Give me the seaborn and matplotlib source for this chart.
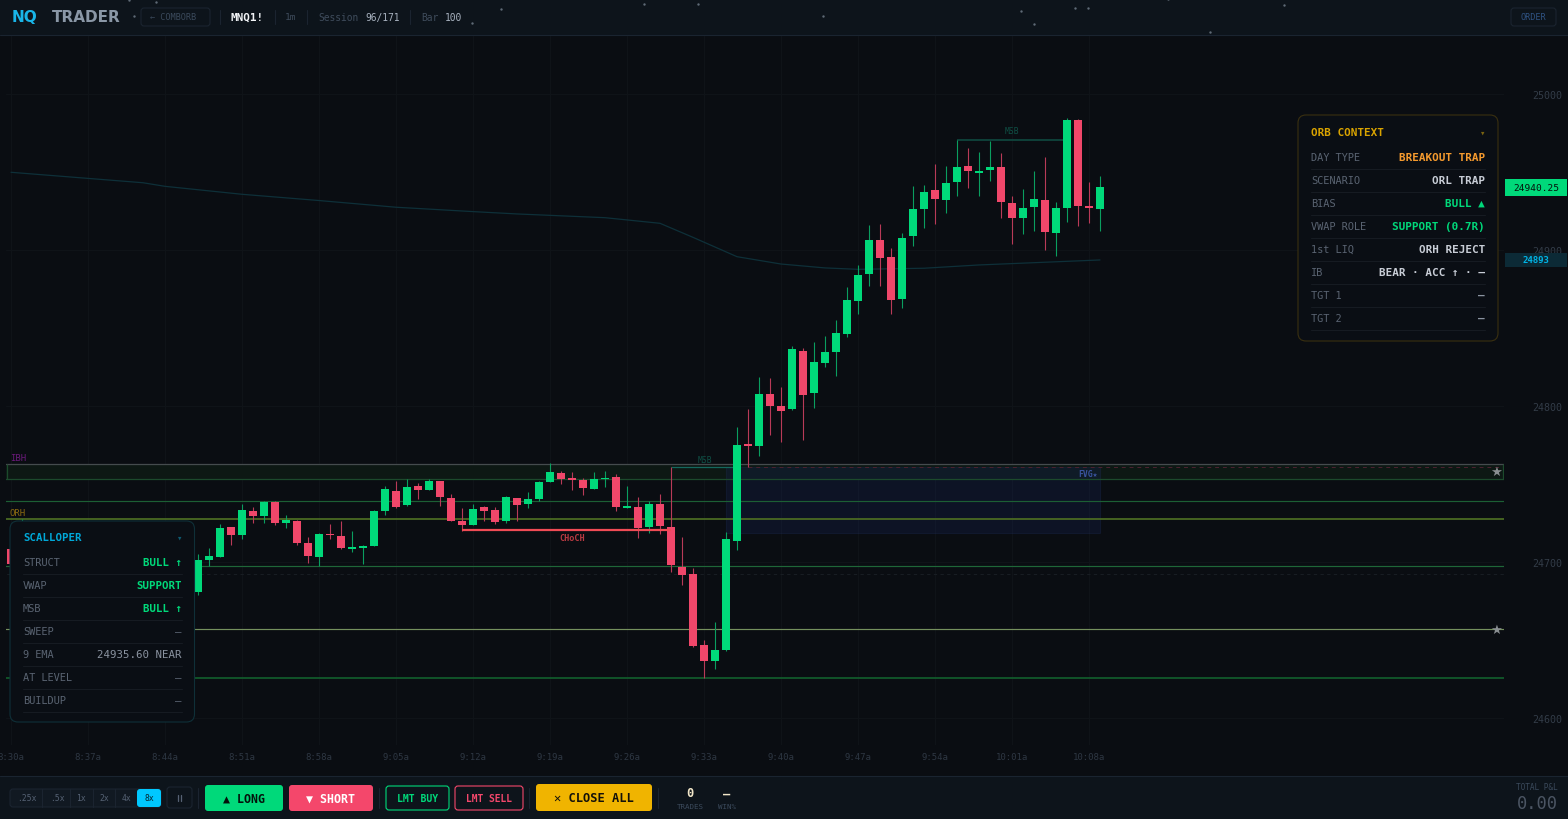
import matplotlib
matplotlib.use("Agg")
import matplotlib.pyplot as plt
import numpy as np
import seaborn as sns
from matplotlib.patches import FancyBboxPatch, Rectangle

# Bars (minutes after 8:30). Bars 2-16 sit behind the SCALLOPER panel.
minutes = [0, 1] + list(range(17, 100))
opens = [24708.3, 24709.6, 24680.8, 24701.5, 24703.4, 24722.4, 24717.3, 24732.7, 24729.5, 24738.3,
         24725.0, 24726.5, 24712.2, 24703.4, 24718.0, 24716.7, 24708.5, 24708.8, 24710.3, 24732.7,
         24745.5, 24736.5, 24748.7, 24746.2, 24751.9, 24741.0, 24726.5, 24723.9, 24735.1, 24733.1,
         24726.3, 24741.0, 24737.0, 24740.6, 24751.5, 24757.3, 24753.9, 24752.4, 24747.0, 24753.4,
         24754.3, 24734.8, 24735.5, 24722.3, 24737.2, 24722.4, 24697.0, 24692.3, 24647.0, 24636.6,
         24643.4, 24713.5, 24775.5, 24774.6, 24807.5, 24800.2, 24797.9, 24835.3, 24808.5, 24827.6,
         24834.4, 24846.4, 24867.3, 24884.4, 24906.2, 24895.3, 24868.6, 24908.8, 24926.1, 24938.5,
         24932.2, 24943.8, 24954.0, 24949.4, 24951.3, 24953.0, 24930.1, 24920.5, 24927.4, 24932.1,
         24911.1, 24926.9, 24983.1, 24928.2, 24926.1]
closes = [24698.7, 24721.2, 24701.5, 24703.9, 24722.0, 24717.3, 24733.3, 24729.3, 24738.5, 24725.2,
          24727.1, 24712.0, 24703.9, 24717.8, 24717.3, 24708.8, 24709.6, 24710.3, 24732.9, 24746.8,
          24735.3, 24748.1, 24746.2, 24751.7, 24741.9, 24726.5, 24723.5, 24734.2, 24732.9, 24725.8,
          24741.5, 24736.7, 24740.2, 24751.3, 24757.5, 24753.4, 24752.8, 24747.2, 24753.4, 24753.9,
          24735.3, 24735.9, 24722.0, 24737.2, 24723.1, 24697.9, 24691.5, 24646.4, 24636.6, 24643.8,
          24714.8, 24775.0, 24774.6, 24807.5, 24800.2, 24797.0, 24836.4, 24807.2, 24828.4, 24834.4,
          24846.8, 24867.8, 24884.2, 24906.2, 24895.1, 24867.8, 24907.9, 24926.1, 24937.2, 24932.5,
          24943.0, 24953.2, 24950.6, 24950.8, 24953.2, 24930.8, 24920.3, 24926.7, 24932.5, 24911.7,
          24926.9, 24983.5, 24928.4, 24926.9, 24940.25]
highs = [24708.3, 24727.6, 24704.9, 24709.0, 24724.6, 24722.4, 24737.2, 24735.3, 24739.3, 24739.3,
         24730.1, 24726.9, 24716.2, 24718.6, 24724.4, 24726.3, 24720.1, 24710.9, 24733.3, 24748.5,
         24751.9, 24753.2, 24750.7, 24753.2, 24751.9, 24743.4, 24734.6, 24737.2, 24735.9, 24735.3,
         24742.3, 24741.0, 24744.9, 24751.9, 24763.3, 24758.3, 24757.9, 24753.7, 24757.5, 24758.3,
         24756.2, 24748.7, 24741.9, 24739.3, 24743.6, 24760.7, 24715.8, 24696.0, 24650.0, 24661.7,
         24719.0, 24786.5, 24798.1, 24818.6, 24818.1, 24812.2, 24838.5, 24837.2, 24840.8, 24844.9,
         24854.9, 24876.1, 24890.4, 24916.0, 24916.5, 24901.1, 24910.9, 24941.2, 24941.7, 24955.1,
         24954.0, 24970.5, 24965.4, 24962.6, 24969.9, 24962.2, 24934.8, 24939.1, 24950.6, 24959.4,
         24931.0, 24984.6, 24984.0, 24943.6, 24947.4]
lows = [24698.1, 24707.1, 24678.9, 24697.4, 24703.2, 24710.9, 24714.8, 24725.0, 24725.2, 24723.7,
        24722.0, 24710.9, 24699.6, 24697.6, 24714.8, 24708.3, 24706.6, 24698.7, 24710.1, 24730.3,
        24734.6, 24735.7, 24740.2, 24746.2, 24735.7, 24726.1, 24720.1, 24723.7, 24726.1, 24724.6,
        24725.2, 24726.3, 24734.6, 24739.3, 24751.5, 24750.0, 24746.4, 24743.0, 24746.8, 24747.9,
        24732.5, 24734.8, 24715.6, 24718.8, 24718.0, 24693.6, 24685.1, 24645.7, 24625.8, 24631.6,
        24642.8, 24707.7, 24760.7, 24768.1, 24781.6, 24777.1, 24797.4, 24778.4, 24798.5, 24825.2,
        24819.0, 24844.0, 24858.8, 24876.7, 24877.1, 24859.2, 24862.8, 24902.8, 24914.1, 24916.7,
        24923.5, 24934.4, 24939.7, 24934.6, 24944.0, 24920.3, 24904.0, 24910.1, 24912.4, 24900.2,
        24896.3, 24917.8, 24915.4, 24917.3, 24912.2]

# VWAP samples
vwap_minutes = [0, 12, 14, 21, 28, 35, 42, 46, 54, 59, 62, 66, 70, 74, 77, 83, 88, 99]
vwap_prices = [24949.8, 24943.1, 24940.8, 24935.7, 24931.7, 24927.4, 24924.6, 24923.1, 24920.7,
               24917.1, 24908.1, 24895.7, 24891.0, 24888.5, 24887.6, 24888.3, 24890.4, 24893.6]

# Key levels
level_prices = [24739.4, 24727.6, 24697.4, 24657.0, 24625.6]
level_colors = ["#1c5f34", "#4a6a22", "#1f6638", "#75905e", "#12662f"]
level_widths = [0.85, 1.3, 0.85, 0.85, 1.1]
ibh_zone = (24753.2, 24762.8)
fvg_zone = (24718.8, 24760.9)
fvg_span = (65, 99)
dotted_level = 24692.5

time_ticks = [0, 7, 14, 21, 28, 35, 42, 49, 56, 63, 70, 77, 84, 91, 98]
time_labels = ["8:30a", "8:37a", "8:44a", "8:51a", "8:58a", "9:05a", "9:12a", "9:19a", "9:26a",
               "9:33a", "9:40a", "9:47a", "9:54a", "10:01a", "10:08a"]
price_ticks = [24600, 24700, 24800, 24900, 25000]

orb_rows = [("DAY TYPE", "BREAKOUT TRAP", "#f59a2e"), ("SCENARIO", "ORL TRAP", "#c8cdd6"),
            ("BIAS", "BULL ▲", "#00d97a"), ("VWAP ROLE", "SUPPORT (0.7R)", "#00d97a"),
            ("1st LIQ", "ORH REJECT", "#c8cdd6"), ("IB", "BEAR · ACC ↑ · —", "#c8cdd6"),
            ("TGT 1", "—", "#8a93a0"), ("TGT 2", "—", "#8a93a0")]
scalp_rows = [("STRUCT", "BULL ↑", "#00d97a"), ("VWAP", "SUPPORT", "#00d97a"),
              ("MSB", "BULL ↑", "#00d97a"), ("SWEEP", "—", "#5a6472"),
              ("9 EMA", "24935.60 NEAR", "#8a93a0"), ("AT LEVEL", "—", "#5a6472"),
              ("BUILDUP", "—", "#5a6472")]

BG = "#0a0d12"
BAR_BG = "#0d141b"
UP = "#00d97a"
DOWN = "#f0476a"
UP_WICK = "#0a9e5f"
DOWN_WICK = "#b93a58"

sns.set_theme(style="dark", rc={"axes.facecolor": BG, "figure.facecolor": BG})
plt.rcParams["font.family"] = ["DejaVu Sans Mono", "DejaVu Sans"]

fig = plt.figure(figsize=(15.68, 8.2), dpi=100)
ax = fig.add_axes([6 / 1568, 74 / 820, 1498 / 1568, 710 / 820])

# chart background levels
ax.axhspan(*ibh_zone, color="#0d1814", lw=0, zorder=1)
ax.add_patch(Rectangle((fvg_span[0], fvg_zone[0]), fvg_span[1] - fvg_span[0], fvg_zone[1] - fvg_zone[0],
                       facecolor="#1a2a6c", alpha=0.22, edgecolor="#26386f", lw=0.8, zorder=1.5))
ax.hlines(ibh_zone[1], -1, 140, color="#454b4e", lw=0.9, zorder=2)
ax.hlines(ibh_zone[0], -1, 140, color="#1c4a2c", lw=0.9, zorder=2)
ax.hlines(level_prices, -1, 140, colors=level_colors, linewidths=level_widths, zorder=2)
ax.hlines(dotted_level, -1, 140, color="#181d23", lw=0.8, linestyles=(0, (3, 3)), zorder=2)
ax.hlines(fvg_zone[1], 67, 140, color="#4c2230", lw=0.7, linestyles=(0, (4, 4)), zorder=2)
ax.vlines(-0.4, *ibh_zone, color="#1c4a2c", lw=0.9, zorder=2)
ax.vlines(135.65, *ibh_zone, color="#1c4a2c", lw=0.9, zorder=2)

sns.lineplot(x=vwap_minutes, y=vwap_prices, color="#0e3039", lw=0.9, ax=ax, zorder=3)

# candles
minutes_arr = np.array(minutes)
opens_arr = np.array(opens)
closes_arr = np.array(closes)
rising = closes_arr >= opens_arr
ax.vlines(minutes_arr[rising], np.array(lows)[rising], np.array(highs)[rising], color=UP_WICK, lw=0.8, zorder=4)
ax.vlines(minutes_arr[~rising], np.array(lows)[~rising], np.array(highs)[~rising], color=DOWN_WICK, lw=0.8, zorder=4)
for mask, colour in [(rising, UP), (~rising, DOWN)]:
    sns.barplot(x=minutes_arr[mask], y=np.abs(closes_arr - opens_arr)[mask],
                bottom=np.minimum(opens_arr, closes_arr)[mask], native_scale=True, color=colour,
                saturation=1, width=0.64, linewidth=0, errorbar=None, ax=ax, zorder=5)

# structure marks
ax.hlines(24760.7, 60, 66, color="#14685e", lw=0.9, zorder=3)
ax.hlines(24970.5, 86, 96, color="#0f4a40", lw=1.2, zorder=3)
ax.hlines(24720.8, 41, 60, color="#f04b55", lw=1.6, zorder=6)

def chart_text(x, y, s, color, px, weight="normal", ha="center"):
    ax.text(x, y, s, color=color, fontsize=px * 0.72, fontweight=weight, ha=ha, va="center", zorder=7)

chart_text(-0.1, 24767.3, "IBH", "#6a1a7a", 9, ha="left")
chart_text(-0.1, 24732.0, "ORH", "#8a6a10", 9, ha="left")
chart_text(63.1, 24766.0, "MSB", "#0f4f45", 8)
chart_text(91, 24976.3, "MSB", "#0f4f45", 8)
chart_text(51, 24716.0, "CHoCH", "#b93a42", 8.5, weight="bold")
chart_text(98.8, 24757.0, "FVG★", "#3a55a0", 8, weight="bold", ha="right")
ax.text(135, 24758.3, "★", color="#8a8f92", fontsize=9.5, family="DejaVu Sans", ha="center", va="center", zorder=7)
ax.text(135, 24657.0, "★", color="#8a8f92", fontsize=9.5, family="DejaVu Sans", ha="center", va="center", zorder=7)

ax.set_xlim((6 - 11) / 11, (1504 - 11) / 11)
ax.set_ylim(24582.7, 25037.8)
ax.set_xticks(time_ticks, time_labels)
ax.set_yticks(price_ticks)
ax.yaxis.tick_right()
ax.tick_params(axis="x", length=0, pad=5, labelsize=6.5, colors="#2e3743")
ax.tick_params(axis="y", length=0, pad=20, labelsize=7.2, colors="#333c48")
ax.grid(True, color="#0f1318", lw=0.8)
ax.set_axisbelow(True)
ax.set_xlabel("")
ax.set_ylabel("")
for side in ax.spines.values():
    side.set_visible(False)

# interface layer, laid out in pixels
ui = fig.add_axes([0, 0, 1, 1], zorder=10)
ui.set_xlim(0, 1568)
ui.set_ylim(820, 0)
ui.axis("off")

def txt(x, y, s, color, px, weight="normal", ha="left"):
    ui.text(x, y, s, color=color, fontsize=px * 0.72, fontweight=weight, ha=ha, va="center")

def box(x0, y0, x1, y1, face, edge="none", radius=3, lw=0.8):
    ui.add_patch(FancyBboxPatch((x0, y0), x1 - x0, y1 - y0, boxstyle=f"round,pad=0,rounding_size={radius}",
                                facecolor=face, edgecolor=edge, linewidth=lw))

def sep(x, y0, y1, color="#1b2430"):
    ui.plot([x, x], [y0, y1], color=color, lw=0.8)

# header
ui.add_patch(Rectangle((0, 0), 1568, 36, facecolor=BAR_BG, edgecolor="none"))
ui.plot([0, 1568], [36, 36], color="#1a2430", lw=0.8)
ui.scatter([129, 156, 134, 501, 472, 644, 698, 823, 1021, 1034, 1075, 1088, 1168, 1284, 1210],
           [1, 3, 17, 10, 24, 5, 5, 17, 12, 25, 9, 9, 0, 6, 33], s=3, color="#5f6a76", linewidths=0)
ui.text(12, 18, "NQ", color="#19b5e8", fontsize=11, fontweight="bold", family="DejaVu Sans", va="center")
ui.text(52, 18, "TRADER", color="#8a97a6", fontsize=11, fontweight="bold", family="DejaVu Sans", va="center")
box(141, 9, 210, 27, "none", "#1b2430")
txt(150, 18, "← COMBORB", "#3b4a5c", 8.5)
for x in [220, 275, 307, 410]:
    sep(x, 11, 25)
txt(231, 18, "MNQ1!", "#f2f4f7", 11, "bold")
txt(285, 18, "1m", "#3f4c5c", 9.5)
txt(318, 18, "Session", "#3f4c5c", 9.7)
txt(365, 18, "96/171", "#a8b2bf", 9.7)
txt(421, 18, "Bar", "#3f4c5c", 9.7)
txt(445, 18, "100", "#a8b2bf", 9.7)
box(1511, 9, 1556, 27, "none", "#1b2430")
txt(1533.5, 18, "ORDER", "#2f5384", 8.5, ha="center")

# footer
ui.add_patch(Rectangle((0, 776.5), 1568, 44, facecolor=BAR_BG, edgecolor="none"))
ui.plot([0, 1568], [776.5, 776.5], color="#1a2430", lw=0.8)
box(10, 790, 161, 808, "#111922", "#1b2430")
box(137, 790, 161, 808, "#00c8ff")
for x in [42, 70, 93, 115]:
    sep(x, 790, 808)
for x, s in zip([27, 57, 81, 104, 127], [".25x", ".5x", "1x", "2x", "4x"]):
    txt(x, 799, s, "#566274", 8, ha="center")
txt(149, 799, "8x", "#06222c", 8, ha="center")
box(167, 788, 192, 809, "none", "#1b2430")
# pause sign has no glyph in the installed fonts
ui.plot([178, 178], [796, 802], color="#566274", lw=0.9)
ui.plot([181, 181], [796, 802], color="#566274", lw=0.9)
for x in [198, 379, 529, 658]:
    sep(x, 789, 809)
box(205, 786, 283, 812, UP)
txt(244, 799.5, "▲ LONG", "#04120b", 11.6, "bold", "center")
box(289, 786, 373, 812, "#f4476b")
txt(331, 799.5, "▼ SHORT", "#ffffff", 11.6, "bold", "center")
box(386, 787, 449, 811, "none", UP)
txt(417.5, 799, "LMT BUY", UP, 9.8, "bold", "center")
box(455, 787, 523, 811, "none", "#f4476b")
txt(489, 799, "LMT SELL", "#f4476b", 9.6, "bold", "center")
box(536, 785, 652, 812, "#f0b400")
txt(594, 799, "✕ CLOSE ALL", "#14110a", 12, "bold", "center")
txt(690, 794, "0", "#f1e6c8", 12, "bold", "center")
txt(690, 807.5, "TRADES", "#3b4a5c", 7.5, ha="center")
txt(727, 794, "—", "#f1e6c8", 12, "bold", "center")
txt(727, 807.5, "WIN%", "#3b4a5c", 7.5, ha="center")
txt(1558, 788, "TOTAL P&L", "#3b4a5c", 7.8, ha="right")
txt(1558, 804, "0.00", "#4b5563", 17, ha="right")

# price tags
ui.add_patch(Rectangle((1505, 180), 62, 17, facecolor=UP, edgecolor="none"))
txt(1536, 188.5, "24940.25", "#04120b", 9.5, ha="center")
ui.add_patch(Rectangle((1505, 254), 62, 14, facecolor="#0c2a36", edgecolor="none"))
txt(1536, 260.5, "24893", "#00b4e6", 9, "bold", "center")

# ORB panel
box(1298, 116, 1498, 342, "#0a0e14", "#3a3010", radius=8)
txt(1311, 133, "ORB CONTEXT", "#d9a300", 11, "bold")
txt(1482, 133, "▾", "#7a6310", 9, ha="center")
for i, (name, value, colour) in enumerate(orb_rows):
    y = 158 + 23 * i
    txt(1311, y, name, "#5a6472", 10.3)
    txt(1485, y, value, colour, 11, "bold", "right")
    ui.plot([1311, 1485], [y + 12, y + 12], color="#161b22", lw=0.8)

# scalp panel
box(10, 522, 194.5, 723, "#0a0e14", "#0f3038", radius=8)
txt(23, 538, "SCALLOPER", "#00a8d8", 10.8, "bold")
txt(178.5, 538, "▾", "#0f5a70", 9, ha="center")
for i, (name, value, colour) in enumerate(scalp_rows):
    y = 563 + 23 * i
    txt(23, y, name, "#5a6472", 10.3)
    txt(182, y, value, colour, 10.8, "bold" if colour == "#00d97a" else "normal", "right")
    ui.plot([23, 182], [y + 11.5, y + 11.5], color="#161b22", lw=0.8)

fig.savefig("out.png", dpi=100, facecolor=BG)
